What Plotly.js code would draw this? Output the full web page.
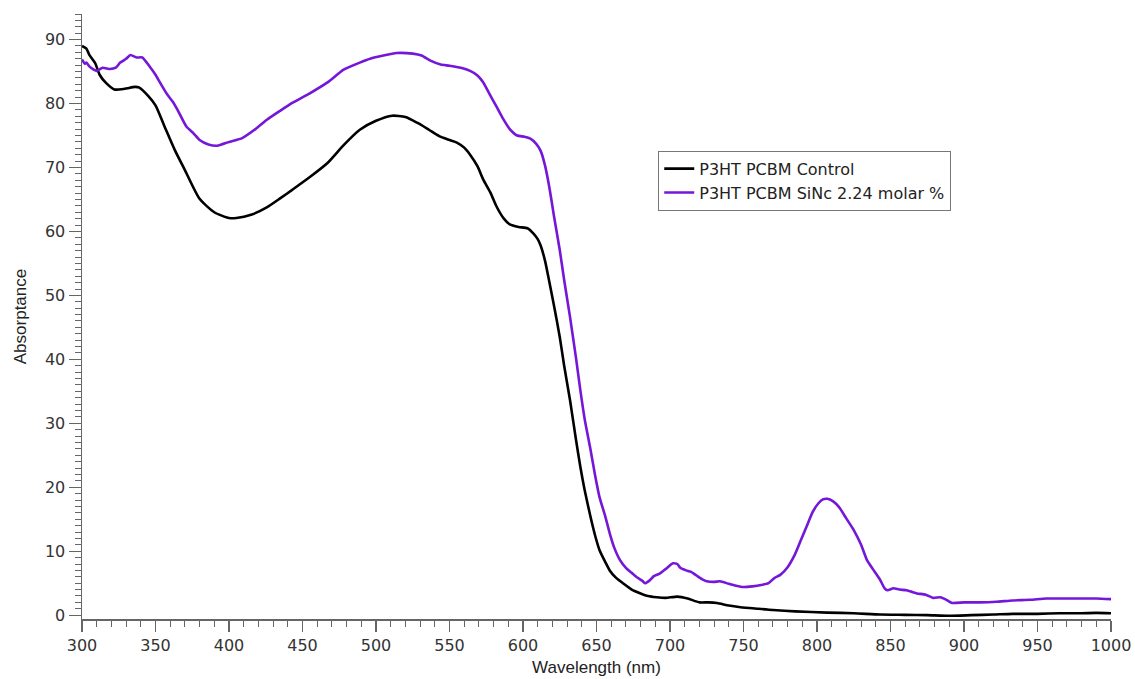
<!DOCTYPE html>
<html>
<head>
<meta charset="utf-8">
<script src="https://cdn.plot.ly/plotly-3.0.1.min.js"></script>
<style>html,body{margin:0;padding:0;background:#fff;}#chart{width:1135px;height:679px;}</style>
</head>
<body>
<div id="chart"></div>
<script>
// Wavelength (nm) and absorptance values
const controlWavelength = [300,303,305,309,312,316,322,329,336,339,345,350,356,363,370,380,390,400,405,415,426,435,443,455,467,478,489,500,511,520,528,536,543,550,555,560,564,569,573,578,582,587,591,597,603,607,610,612,615,618,621,625,628,632,636,639,642,646,649,652,656,659,663,668,674,680,685,691,697,705,712,720,726,732,740,748,760,770,785,807,825,843,860,875,890,905,920,933,950,965,979,990,1000];
const controlValues = [89.0,88.6,87.6,86.3,84.5,83.3,82.2,82.3,82.6,82.5,81.2,79.7,76.5,72.8,69.6,65.1,63.0,62.1,62.1,62.6,63.8,65.2,66.5,68.5,70.7,73.5,75.9,77.3,78.1,77.9,77.0,75.9,74.9,74.3,73.9,73.1,72.0,70.2,68.1,66.0,63.9,62.0,61.1,60.7,60.5,59.7,58.8,57.8,55.4,52.0,48.5,43.5,39.0,33.6,27.5,23.2,19.5,15.3,12.5,10.2,8.3,7.0,5.9,5.0,4.0,3.4,3.0,2.8,2.7,2.9,2.6,2.0,2.0,1.9,1.5,1.25,1.0,0.8,0.6,0.4,0.3,0.1,0.05,0.0,-0.1,0.0,0.1,0.2,0.2,0.3,0.3,0.35,0.3];

const sincWavelength = [300,302,303,305,308,310,314,319,323,326,330,333,337,341,346,350,353,358,362,365,371,376,380,386,392,400,409,418,426,435,443,455,467,478,489,496,505,514,525,531,537,544,550,559,564,569,573,577,582,586,591,596,601,605,609,612,615,618,621,625,628,632,636,639,642,646,649,652,656,659,662,666,670,673,677,681,683,686,689,693,697,702,705,707,711,714,718,722,725,730,734,740,745,750,756,762,767,771,775,780,785,789,793,797,801,804,807,811,815,820,825,830,834,838,843,846,848,852,856,861,865,868,874,879,884,888,892,900,911,922,933,945,956,967,979,990,1000];
const sincValues = [86.9,86.2,86.4,85.8,85.3,85.1,85.6,85.4,85.6,86.4,87.0,87.6,87.2,87.2,85.8,84.5,83.3,81.4,80.2,79.0,76.4,75.3,74.3,73.6,73.4,74.0,74.6,76.0,77.5,78.9,80.1,81.6,83.3,85.3,86.4,87.0,87.5,87.9,87.8,87.5,86.7,86.1,85.9,85.5,85.1,84.4,83.3,81.6,79.5,77.8,76.0,75.0,74.8,74.5,73.7,72.6,70.3,66.8,62.5,57.1,52.4,46.6,40.3,35.2,30.6,25.8,21.9,18.5,15.4,12.8,10.6,8.6,7.4,6.8,6.0,5.4,5.0,5.4,6.1,6.5,7.2,8.1,8.0,7.4,7.0,6.8,6.2,5.6,5.3,5.2,5.3,4.9,4.6,4.4,4.5,4.7,5.0,5.8,6.3,7.5,9.5,11.7,13.9,16.1,17.5,18.1,18.2,17.8,16.9,15.1,13.3,11.0,8.6,7.2,5.5,4.2,3.9,4.2,4.0,3.9,3.6,3.4,3.2,2.7,2.8,2.4,1.9,2.0,2.0,2.1,2.3,2.4,2.6,2.6,2.6,2.6,2.5,1.9];

const seriesNames = ['P3HT PCBM Control', 'P3HT PCBM SiNc 2.24 molar %'];
const xTickValues = [300,350,400,450,500,550,600,650,700,750,800,850,900,950,1000];
const yTickValues = [0,10,20,30,40,50,60,70,80,90];

const traces = [
  {x: controlWavelength, y: controlValues, name: seriesNames[0], type: 'scatter', mode: 'lines',
   line: {color: '#000000', width: 2.6, shape: 'spline', smoothing: 0.6}},
  {x: sincWavelength, y: sincValues, name: seriesNames[1], type: 'scatter', mode: 'lines',
   line: {color: '#7417d8', width: 2.6, shape: 'spline', smoothing: 0.5}}
];

const axisFont = {family: 'DejaVu Sans, sans-serif', size: 16, color: '#333333'};

const layout = {
  width: 1135, height: 679,
  margin: {l: 82, r: 24, t: 14, b: 60},
  paper_bgcolor: '#ffffff', plot_bgcolor: '#ffffff',
  showlegend: true,
  legend: {
    x: 0.56, y: 0.774, xanchor: 'left', yanchor: 'top',
    bordercolor: '#777777', borderwidth: 1, bgcolor: '#ffffff',
    font: {family: 'DejaVu Sans, sans-serif', size: 16, color: '#222222'},
    tracegroupgap: 0
  },
  xaxis: {
    range: [300, 1000], showgrid: false, zeroline: false,
    showline: true, linecolor: '#666666', linewidth: 1.5,
    ticks: 'outside', ticklen: 11, tickwidth: 1.2, tickcolor: '#666666',
    tickvals: xTickValues, ticktext: xTickValues.map(String),
    minor: {dtick: 10, tick0: 300, ticks: 'outside', ticklen: 6, tickwidth: 1, tickcolor: '#666666', showgrid: false},
    tickfont: axisFont,
    title: {text: 'Wavelength (nm)', font: {family: 'Liberation Sans, Arial, sans-serif', size: 17, color: '#222222'}, standoff: 7}
  },
  yaxis: {
    range: [-0.6, 94], showgrid: false, zeroline: false,
    showline: true, linecolor: '#666666', linewidth: 1.5,
    ticks: 'outside', ticklen: 12, tickwidth: 1.2, tickcolor: '#666666',
    tickvals: yTickValues, ticktext: yTickValues.map(String),
    minor: {dtick: 1, tick0: 0, ticks: 'outside', ticklen: 6, tickwidth: 1, tickcolor: '#666666', showgrid: false},
    tickfont: axisFont,
    title: {text: 'Absorptance', font: {family: 'Liberation Sans, Arial, sans-serif', size: 17, color: '#222222'}, standoff: 14}
  }
};

Plotly.newPlot('chart', traces, layout, {displayModeBar: false, staticPlot: true});
</script>
</body>
</html>
